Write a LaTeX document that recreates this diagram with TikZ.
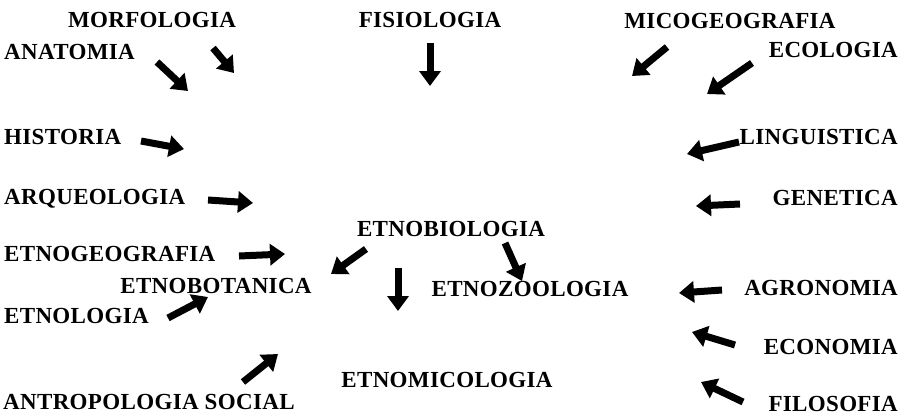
\documentclass[tikz,border=0pt]{standalone}
\usepackage{fontspec}
\setmainfont{Liberation Serif}[LetterSpace=1.5]
\usetikzlibrary{arrows.meta}
\begin{document}
\begin{tikzpicture}[x=1pt,y=-1pt,
  lab/.style={font=\fontsize{23}{25}\selectfont\bfseries, inner sep=0pt, text height=15.2pt, text depth=0pt},
  bigarrow/.style={line width=7pt, -{Triangle[length=15pt,width=21pt]}}]
\useasboundingbox (0,0) rectangle (910,416);
% labels
\node[lab] (morf) at (152,20) {MORFOLOGIA};
\node[lab,anchor=west] (anat) at (4,52) {ANATOMIA};
\node[lab] (fisio) at (430,20) {FISIOLOGIA};
\node[lab] (mico) at (730,21) {MICOGEOGRAFIA};
\node[lab,anchor=east] (eco) at (898,50) {ECOLOGIA};
\node[lab,anchor=west] (hist) at (4,137) {HISTORIA};
\node[lab,anchor=east] (ling) at (898,137) {LINGUISTICA};
\node[lab,anchor=west] (arq) at (4,197) {ARQUEOLOGIA};
\node[lab,anchor=east] (gen) at (898,198) {GENETICA};
\node[lab] (ebio) at (451,229) {ETNOBIOLOGIA};
\node[lab,anchor=west] (egeo) at (4,254) {ETNOGEOGRAFIA};
\node[lab] (ebot) at (216,286) {ETNOBOTANICA};
\node[lab] (ezoo) at (530,289) {ETNOZOOLOGIA};
\node[lab,anchor=east] (agro) at (898,288) {AGRONOMIA};
\node[lab,anchor=west] (etnol) at (4,316) {ETNOLOGIA};
\node[lab,anchor=east] (econ) at (898,347) {ECONOMIA};
\node[lab] (emic) at (447,380) {ETNOMICOLOGIA};
\node[lab,anchor=west] (antro) at (3,402) {ANTROPOLOGIA SOCIAL};
\node[lab,anchor=east] (filo) at (898,404) {FILOSOFIA};
% arrow end points
\coordinate (morfT) at (213,48);  \coordinate (morfH) at (234,73);
\coordinate (anatT) at (157,62);  \coordinate (anatH) at (188,91);
\coordinate (fisT) at (430,43);   \coordinate (fisH) at (430,86);
\coordinate (micT) at (667,47);   \coordinate (micH) at (632,76);
\coordinate (ecoT) at (752,63);   \coordinate (ecoH) at (707,94);
\coordinate (hisT) at (141,141);  \coordinate (hisH) at (184,149);
\coordinate (linT) at (739,142);  \coordinate (linH) at (687,154);
\coordinate (arqT) at (208,200);  \coordinate (arqH) at (253,203);
\coordinate (genT) at (740,204);  \coordinate (genH) at (696,206);
\coordinate (egeT) at (239,256);  \coordinate (egeH) at (285,254);
\coordinate (bbT) at (366,249);   \coordinate (bbH) at (331,274);
\coordinate (bdT) at (398,268);   \coordinate (bdH) at (398,311);
\coordinate (bzT) at (505,243);   \coordinate (bzH) at (522,281);
\coordinate (etlT) at (168,318);  \coordinate (etlH) at (208,297);
\coordinate (antT) at (243,382);  \coordinate (antH) at (278,354);
\coordinate (agrT) at (722,290);  \coordinate (agrH) at (679,293);
\coordinate (ecnT) at (735,345);  \coordinate (ecnH) at (692,332);
\coordinate (filT) at (743,402);  \coordinate (filH) at (701,382);
% arrows
\foreach \a in {morf,anat,fis,mic,eco,his,lin,arq,gen,ege,bb,bd,bz,etl,ant,agr,ecn,fil}
  \draw[bigarrow] (\a T) -- (\a H);
\end{tikzpicture}
\end{document}
